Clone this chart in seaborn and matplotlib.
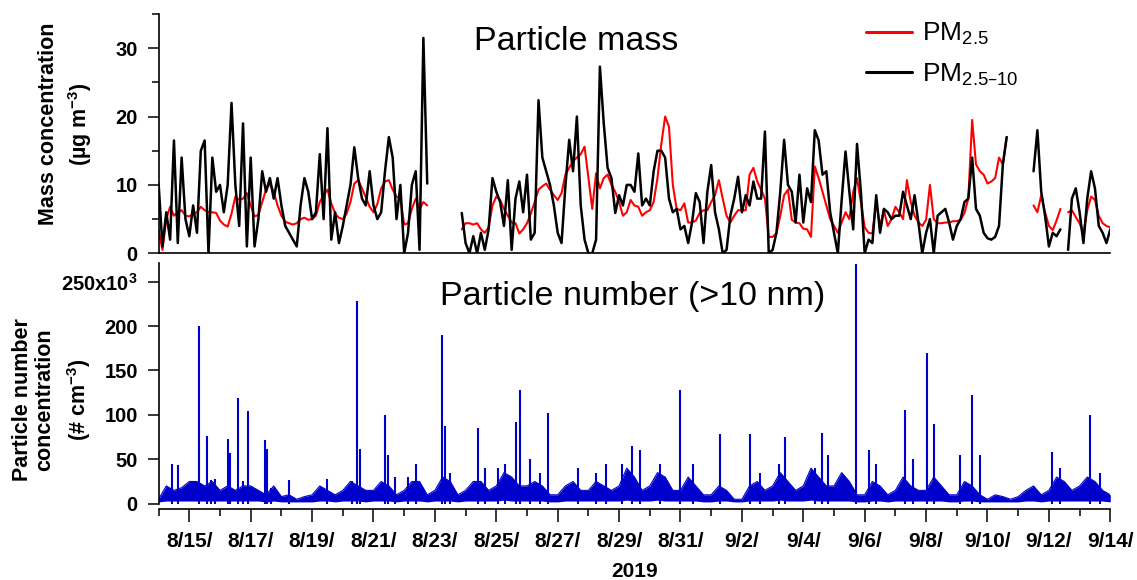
import numpy as np
import pandas as pd
import matplotlib
matplotlib.use("Agg")
import matplotlib.pyplot as plt
import matplotlib.dates as mdates
from matplotlib.lines import Line2D
from matplotlib.ticker import FixedLocator, FuncFormatter, MultipleLocator
import seaborn as sns

nan = np.nan
START = pd.Timestamp("2019-08-14")
END = pd.Timestamp("2019-09-14")

# PM2.5 mass concentration (ug m-3), 3-hourly from 8/14 00:00; nan = no data
pm25 = [
    3.4, 0.5, 5.0, 6.8, 5.5, 6.0, 6.3, 5.5,
    5.4, 5.8, 6.0, 6.8, 6.3, 6.0, 6.0, 5.9,
    4.8, 4.2, 3.9, 5.8, 8.3, 7.8, 8.0, 8.8,
    7.0, 5.4, 5.6, 7.5, 9.3, 10.2, 9.0, 7.0,
    5.5, 4.6, 4.4, 4.2, 4.4, 5.0, 5.2, 4.9,
    5.0, 5.5, 7.5, 8.5, 9.3, 7.3, 5.8, 5.2,
    5.0, 5.8, 7.5, 10.2, 10.7, 9.5, 8.2, 6.8,
    6.0, 7.2, 9.5, 10.5, 10.7, 9.3, 8.3, 8.0,
    4.2, 4.4, 6.5, 8.0, 6.5, 7.5, 7.0, nan,
    nan, nan, nan, nan, nan, nan, nan, 3.5,
    4.4, 4.4, 4.2, 4.4, 3.5, 3.0, 3.8, 7.0,
    8.3, 7.8, 6.5, 5.5, 4.5, 4.4, 2.9, 3.5,
    4.4, 5.8, 7.5, 9.3, 9.8, 10.2, 9.3, 8.5,
    7.8, 8.8, 11.5, 12.5, 13.5, 14.0, 14.5, 15.6,
    11.0, 6.5, 11.7, 9.5, 11.0, 11.5, 10.0, 9.0,
    7.5, 5.5, 6.0, 7.8, 7.0, 6.8, 5.5, 6.0,
    6.3, 7.5, 11.0, 16.0, 20.0, 18.5, 10.0, 6.5,
    6.3, 7.3, 4.5, 4.5, 4.8, 5.9, 6.3, 6.3,
    7.5, 8.5, 10.7, 8.0, 5.5, 4.5, 5.5, 6.3,
    6.3, 6.3, 11.5, 12.5, 10.5, 9.3, 8.0, 2.4,
    2.4, 2.9, 5.5, 8.5, 9.3, 4.9, 4.5, 4.4,
    3.6, 3.5, 2.4, 12.7, 11.0, 9.0, 7.0, 5.0,
    4.0, 3.0, 4.5, 6.0, 5.0, 9.0, 11.0, 7.5,
    3.8, 3.0, 2.9, 7.5, 4.0, 6.3, 4.0, 5.0,
    6.8, 6.0, 5.0, 10.7, 7.5, 5.5, 4.5, 4.0,
    4.9, 10.0, 5.0, 4.4, 4.4, 4.5, 4.5, 4.7,
    4.7, 4.9, 5.9, 8.0, 19.5, 13.0, 12.0, 11.5,
    10.2, 10.5, 11.0, 14.0, 13.0, 17.0, nan, nan,
    nan, nan, nan, nan, 7.0, 6.0, 8.5, 6.0,
    4.0, 3.4, 4.8, 6.5, nan, 6.0, 6.3, 5.3,
    4.4, 2.9, 6.3, 8.3, 7.8, 5.5, 4.4, 4.0,
    3.8,
]

# PM2.5-10 mass concentration (ug m-3), same 3-hourly time base
pm25_10 = [
    10.2, 1.0, 6.0, 2.0, 16.5, 1.5, 14.0, 5.0,
    2.5, 7.0, 3.0, 15.0, 16.5, 0.0, 14.0, 9.0,
    10.0, 6.0, 10.0, 22.0, 10.0, 4.0, 19.0, 1.0,
    14.0, 1.0, 5.0, 12.0, 9.0, 11.0, 8.0, 11.0,
    7.0, 4.0, 3.0, 2.0, 1.0, 7.0, 11.0, 9.0,
    5.0, 6.0, 14.5, 5.0, 18.3, 2.0, 6.0, 1.5,
    4.0, 7.0, 10.0, 15.5, 11.0, 8.0, 7.0, 12.0,
    7.0, 5.0, 6.0, 12.0, 17.0, 14.0, 5.0, 10.0,
    0.0, 3.0, 10.0, 12.0, 0.5, 31.5, 10.2, nan,
    nan, nan, nan, nan, nan, nan, nan, 5.9,
    1.5, 0.0, 2.5, 0.0, 3.0, 0.5, 3.5, 11.0,
    9.0, 7.5, 4.0, 10.7, 0.5, 8.0, 10.5, 6.0,
    11.5, 2.0, 3.0, 22.4, 14.0, 12.0, 10.0, 7.0,
    3.0, 1.5, 9.8, 16.6, 12.0, 20.0, 7.0, 2.0,
    0.0, 0.0, 2.0, 27.3, 19.0, 12.5, 11.0, 5.9,
    8.5, 7.0, 10.0, 10.0, 9.0, 14.6, 7.0, 8.0,
    7.0, 12.0, 15.0, 15.0, 14.0, 8.0, 6.0, 6.5,
    3.5, 4.0, 1.5, 4.5, 8.8, 7.5, 1.5, 9.0,
    12.9, 6.0, 3.5, 0.0, 0.5, 5.5, 8.0, 11.2,
    6.0, 8.5, 7.0, 10.5, 8.0, 8.0, 17.8, 0.0,
    0.5, 3.0, 9.0, 16.6, 10.0, 9.0, 4.5, 11.5,
    4.5, 9.5, 7.5, 18.0, 16.5, 11.5, 12.0, 6.0,
    3.0, 0.0, 7.8, 14.9, 9.0, 3.5, 16.0, 9.0,
    0.0, 2.0, 1.5, 8.5, 3.0, 6.5, 6.0, 5.0,
    5.5, 5.5, 9.0, 7.0, 5.0, 8.5, 4.5, 0.0,
    3.0, 5.0, 0.0, 5.5, 6.0, 6.5, 4.5, 2.0,
    4.0, 5.0, 7.5, 8.0, 14.0, 6.5, 5.5, 3.0,
    2.2, 2.0, 2.4, 4.0, 13.0, 17.0, nan, nan,
    nan, nan, nan, nan, 12.0, 18.0, 9.0, 5.5,
    1.0, 3.0, 2.5, 3.5, nan, 0.5, 8.0, 9.5,
    6.0, 1.5, 8.0, 12.0, 9.5, 4.0, 3.0, 1.5,
    3.5,
]

# Particle number concentration (x10^3 cm-3): 6-hourly lower and upper envelope
pn_low = [
    2, 3, 3, 3,  3, 3, 3, 3,  3, 3, 3, 3,  3, 3, 2, 3,
    2, 2, 2, 2,  2, 3, 3, 2,  3, 3, 3, 2,  3, 3, 3, 2,
    3, 3, 3, 2,  3, 3, 3, 2,  3, 3, 3, 3,  3, 4, 3, 3,
    3, 3, 3, 2,  2, 3, 3, 3,  3, 3, 3, 3,  3, 4, 3, 3,
    3, 4, 3, 3,  3, 3, 3, 2,  2, 3, 3, 2,  2, 3, 3, 3,
    3, 4, 3, 3,  3, 4, 3, 3,  3, 3, 3, 2,  2, 3, 3, 2,
    3, 3, 3, 3,  3, 3, 3, 2,  2, 3, 3, 2,  2, 2, 2, 2,
    2, 3, 3, 2,  3, 3, 3, 3,  3, 3, 3, 3,  2,
]
pn_high = [
    5, 20, 15, 18,  25, 25, 20, 25,  15, 20, 15, 20,  20, 15, 10, 20,
    8, 10, 5, 8,  10, 20, 15, 10,  15, 25, 20, 15,  15, 25, 20, 10,
    15, 25, 25, 10,  15, 30, 25, 10,  15, 25, 25, 15,  20, 35, 30, 20,
    20, 25, 20, 10,  10, 20, 25, 15,  15, 25, 20, 15,  20, 40, 30, 15,
    20, 35, 30, 15,  15, 30, 20, 10,  10, 20, 15, 5,  5, 20, 25, 15,
    20, 35, 25, 15,  20, 40, 30, 20,  20, 35, 25, 10,  10, 25, 20, 10,
    15, 30, 20, 15,  15, 30, 20, 10,  10, 25, 20, 10,  5, 10, 8, 5,
    8, 15, 20, 10,  15, 30, 25, 15,  20, 30, 25, 15,  10,
]

# Short-lived bursts: time (days after 8/14 00:00) and peak value
spike_day = [0.44, 0.63, 1.32, 1.58, 1.71, 1.84, 2.26, 2.33, 2.59, 2.75,
             2.91, 3.47, 3.53, 3.66, 4.24, 5.50, 6.30, 6.47, 6.56, 7.37,
             7.47, 7.70, 8.12, 8.40, 9.23, 9.33, 9.50, 10.40, 10.63, 11.06,
             11.28, 11.65, 11.77, 12.10, 12.42, 12.68, 13.67, 14.25, 14.58,
             15.10, 15.42, 15.69, 16.33, 16.98, 17.40, 18.29, 19.26, 19.59,
             20.21, 20.40, 21.38, 21.60, 21.80, 22.72, 23.14, 23.37, 24.31,
             24.57, 25.04, 25.27, 26.10, 26.50, 26.76, 29.10, 29.35, 30.34,
             30.66]
spike_peak = [45, 44, 200, 76, 27, 28, 73, 57, 119, 25,
              104, 72, 62, 18, 27, 28, 25, 228, 62, 100,
              55, 30, 30, 45, 190, 87, 35, 85, 40, 40,
              45, 92, 128, 50, 35, 102, 40, 35, 45,
              45, 65, 60, 45, 128, 45, 78, 78, 35,
              45, 75, 40, 80, 55, 270, 60, 45, 105,
              50, 170, 90, 55, 122, 55, 58, 40, 100,
              35]

mass_time = pd.date_range(START, periods=len(pm25), freq="3h")
pn_time = pd.date_range(START, periods=len(pn_high), freq="6h")
spike_time = START + pd.to_timedelta(spike_day, unit="D")

RED, BLACK, BLUE = "#ff0000", "#000000", "#0000cc"

sns.set_theme(style="ticks")
plt.rcParams["font.family"] = ["Liberation Sans", "DejaVu Sans"]
plt.rcParams["mathtext.default"] = "regular"
plt.rcParams.update({"text.color": "black", "axes.labelcolor": "black",
                     "xtick.color": "black", "ytick.color": "black",
                     "axes.edgecolor": "black"})

W, H = 1137, 580
fig = plt.figure(figsize=(W / 100, H / 100), dpi=100)


def fx(px):
    return px / W


def fy(py):
    return 1 - py / H


X0, X1 = 158.6, 1110.3
ax_m = fig.add_axes([fx(X0), fy(253.3), fx(X1) - fx(X0), fy(14) - fy(253.3)])
ax_n = fig.add_axes([fx(X0), fy(503.7), fx(X1) - fx(X0), fy(263) - fy(503.7)],
                    sharex=ax_m)


def segments(times, values):
    """Long-form frame with a segment id so gaps in the record stay open."""
    df = pd.DataFrame({"time": times, "value": values})
    df["seg"] = df["value"].isna().cumsum()
    return df.dropna()


sns.lineplot(data=segments(mass_time, pm25), x="time", y="value", units="seg",
             estimator=None, color=RED, lw=1.5, ax=ax_m, legend=False)
sns.lineplot(data=segments(mass_time, pm25_10), x="time", y="value", units="seg",
             estimator=None, color=BLACK, lw=1.8, ax=ax_m, legend=False)

ax_n.fill_between(pn_time, pn_low, pn_high, color=BLUE, lw=0)
sns.lineplot(x=pn_time, y=pn_high, color=BLUE, lw=0.8, ax=ax_n)
ax_n.vlines(spike_time, 0, spike_peak, color=BLUE, lw=1.5)

# ---- axes styling ----
for ax in (ax_m, ax_n):
    ax.spines[["top", "right"]].set_visible(False)
    ax.spines[["left", "bottom"]].set_linewidth(1.2)
    ax.spines[["left", "bottom"]].set_color("black")
    ax.set_xlabel("")
    ax.set_ylabel("")
    ax.tick_params(axis="y", which="major", length=8, width=1.1, pad=7,
                   labelsize=14.5, colors="black")
    ax.tick_params(axis="y", which="minor", length=4.8, width=1.1, colors="black")

ax_m.set_ylim(0, 35)
ax_m.yaxis.set_major_locator(MultipleLocator(10))
ax_m.yaxis.set_minor_locator(MultipleLocator(5))

ax_n.set_ylim(0, 271)
ax_n.yaxis.set_major_locator(MultipleLocator(50))
ax_n.yaxis.set_major_formatter(
    FuncFormatter(lambda v, _: "250x10$^3$" if v == 250 else f"{v:.0f}"))
ax_n.spines["bottom"].set_position(("outward", 4))

major_days = pd.date_range("2019-08-15", END, freq="2D")
minor_days = pd.date_range(START, END, freq="D")
ax_n.xaxis.set_major_locator(FixedLocator(mdates.date2num(major_days)))
ax_n.xaxis.set_minor_locator(FixedLocator(mdates.date2num(minor_days)))
ax_n.xaxis.set_major_formatter(
    FuncFormatter(lambda v, _: f"{mdates.num2date(v).month}/{mdates.num2date(v).day}/"))
ax_n.set_xlim(START, END)
ax_n.tick_params(axis="x", which="major", length=9.6, width=1.1, pad=7,
                 labelsize=15, colors="black")
ax_n.tick_params(axis="x", which="minor", length=4.8, width=1.1, colors="black")
for ax in (ax_m, ax_n):
    for lab in ax.get_yticklabels() + ax.get_xticklabels():
        lab.set_fontweight("bold")
ax_m.tick_params(axis="x", which="both", bottom=False, labelbottom=False)
ax_n.set_xlabel("2019", fontsize=15, fontweight="bold", labelpad=8)

# ---- panel titles ----
fig.text(fx(576), fy(50), "Particle mass", ha="center", va="baseline",
         fontsize=24.5, color="black")
fig.text(fx(633), fy(305), "Particle number (>10 nm)", ha="center",
         va="baseline", fontsize=24.5, color="black")

# ---- axis titles ----
lab_kw = dict(rotation=90, ha="center", va="center", fontsize=15.5,
              fontweight="bold", color="black")
fig.text(fx(49), fy(124), "Mass concentration", **lab_kw)
fig.text(fx(80), fy(124), "(µg m$^{-3}$)", **lab_kw)
fig.text(fx(23), fy(400), "Particle number", **lab_kw)
fig.text(fx(45), fy(400), "concentration", **lab_kw)
fig.text(fx(79), fy(400), "(# cm$^{-3}$)", **lab_kw)

# ---- legend ----
handles = [Line2D([], [], color=RED, lw=2.2), Line2D([], [], color=BLACK, lw=2.2)]
leg = ax_m.legend(handles, ["PM$_{2.5}$", "PM$_{2.5\u201310}$"], loc="upper left",
                  bbox_to_anchor=(fx(866), fy(21)), bbox_transform=fig.transFigure,
                  frameon=False, fontsize=19, handlelength=1.74, handletextpad=0.39,
                  borderpad=0, borderaxespad=0, labelspacing=0.55)
for t in leg.get_texts():
    t.set_color("black")

fig.savefig("out.png", dpi=100)
